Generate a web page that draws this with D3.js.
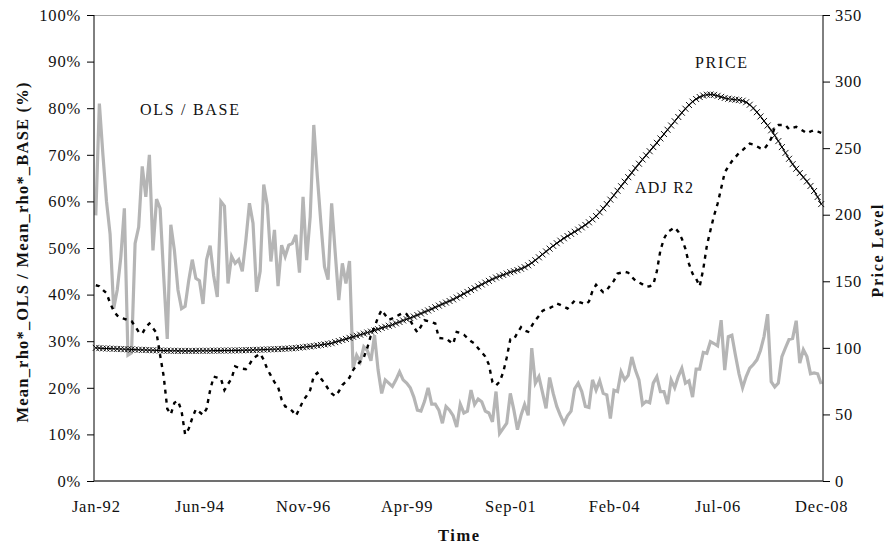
<!DOCTYPE html>
<html>
<head>
<meta charset="utf-8">
<script src="https://cdn.jsdelivr.net/npm/d3@7"></script>
<style>
  html, body { margin: 0; padding: 0; background: #fff; }
  svg text { font-family: "Liberation Serif", "Times New Roman", serif; fill: #111; }
</style>
</head>
<body>
<svg id="chart" width="887" height="544"></svg>
<script>
// Monthly observations, Jan-1992 .. Dec-2008
const firstMonth = new Date(1992, 0, 1);
const endMonth = new Date(2009, 0, 1);

const xTickLabels = ["Jan-92", "Jun-94", "Nov-96", "Apr-99", "Sep-01", "Feb-04", "Jul-06", "Dec-08"];
const leftTicks = [0, 10, 20, 30, 40, 50, 60, 70, 80, 90, 100];
const rightTicks = [0, 50, 100, 150, 200, 250, 300, 350];

// Mean_rho*_OLS / Mean_rho*_BASE, in %
const olsBase = [
  57, 81, 70, 60, 53, 37, 41, 48, 58.5, 27, 27.5, 51, 54.5, 67.5, 61, 70, 49.5, 60.5, 58.5, 44,
  30.5, 55, 49.5, 41, 37, 37.5, 43, 47.5, 43.5, 43, 38, 47.5, 50.5, 44, 39.5, 60, 59, 42.4, 48.2, 46.7,
  47.5, 45, 51.7, 59.6, 55.3, 40.6, 45, 63.6, 59.2, 47.1, 53.9, 41.8, 50.6, 48.2, 50.6, 51, 52.8, 44.7, 61, 47.4,
  56.7, 76.4, 65.3, 55.3, 46, 43.2, 59.6, 49, 38.8, 46.7, 42.4, 47.2, 24.2, 27, 25.6, 28.8, 28, 25.8, 31.3, 23.8,
  18.8, 21.7, 21, 20.3, 21.7, 23.4, 21.7, 21, 20, 18, 15.2, 15, 17.1, 20, 16.5, 16.5, 15.2, 12.4, 16, 15.2,
  14, 11.6, 16.5, 14.6, 15, 19.5, 16.4, 17.6, 17, 15, 14.6, 12.7, 19.2, 10.2, 11.3, 12.4, 18.8, 15.2, 11, 14.1,
  16.4, 14.1, 28.5, 21, 22.4, 19, 15.6, 22.2, 18.8, 16, 14.1, 12.4, 14, 15, 19.8, 21, 19.2, 16, 15.8, 21.7,
  19.5, 21.5, 18.8, 18.5, 13.4, 19.5, 19.2, 23.4, 21.7, 22.7, 26.6, 23.8, 21.7, 16.4, 17.1, 16.8, 21, 22.4, 19.2, 19.2,
  16.5, 21.7, 20, 22.4, 24.2, 21, 21.5, 18, 24, 24, 27.6, 27.4, 29.9, 29.5, 29, 34.5, 23.8, 31, 31.3, 27,
  23, 20, 22.4, 24.2, 25, 26, 28, 31, 35.8, 21.3, 20.2, 21, 26.7, 28.6, 30.4, 30.6, 34.4, 25.3, 28.2, 26.7,
  23, 23.2, 23, 20.8
];

// Adjusted R-squared, in %
const adjR2 = [
  42, 41.8, 41, 40.3, 38.2, 36.5, 35.5, 35, 34.8, 34.5, 34.3, 33.2, 32, 31.6, 33, 33.8, 32.8, 31.8, 27, 22.5,
  15.5, 14.3, 16.8, 17.2, 15, 10, 11.2, 13.5, 15.4, 14.8, 14.2, 15.5, 19.5, 22.4, 22.2, 22, 19.5, 20.8, 22, 24.6,
  24.3, 24.1, 24, 25, 26.3, 26.8, 27.3, 26, 24, 22.6, 21.2, 20.2, 17.5, 16, 15.7, 15, 14, 15.5, 17.2, 18.3,
  19.5, 22.5, 23.2, 22, 21, 19.8, 18.8, 18.2, 19.2, 20.6, 21.3, 22.2, 23.8, 24.8, 25.6, 26.5, 28.6, 31.3, 33, 35.2,
  36.7, 35.6, 34.6, 34.9, 35.3, 35.7, 36.1, 35.8, 34.5, 33, 31.9, 33.2, 34.5, 34.3, 34.1, 33.8, 30.7, 30.6, 30.6, 30,
  29.4, 32, 31.8, 31.4, 30.7, 30, 29.5, 28.5, 27.6, 26.7, 25, 21.2, 20.5, 21.3, 23.3, 26.5, 30.4, 30.4, 31.8, 33,
  32.3, 32, 33.3, 34.5, 35.4, 36.5, 36.9, 37.1, 37.5, 38.1, 37.8, 37.4, 37, 37.8, 38.7, 38.5, 38.2, 37.9, 38.5, 40.8,
  42.1, 41.3, 40.5, 41, 42, 43, 44.5, 44.7, 44.9, 44.7, 43.8, 43, 42.6, 42.2, 41.7, 41.8, 42.1, 45, 49.5, 52,
  53.4, 53.9, 54.4, 53.5, 52, 49.8, 46.6, 44.5, 43.4, 41.8, 45.5, 50.5, 53.8, 56.9, 59.5, 62.8, 66.2, 67.5, 68.6, 69.5,
  70.4, 71, 71.7, 72.4, 72.2, 71.8, 71.4, 71.2, 72.2, 73.5, 76, 76.4, 76.4, 76.4, 75.5, 75.8, 76, 75.6, 75.1, 74.6,
  75, 75.3, 75, 74.7
];

// Price level index (right axis)
const price = [
  100, 99.8, 99.6, 99.5, 99.4, 99.3, 99.2, 99.1, 99, 98.9, 98.8, 98.7, 98.6, 98.5, 98.4, 98.3, 98.2, 98.1, 98, 97.9,
  97.9, 97.8, 97.8, 97.7, 97.7, 97.7, 97.7, 97.7, 97.7, 97.8, 97.8, 97.8, 97.8, 97.9, 97.9, 97.9, 98, 98, 98, 98.1,
  98.1, 98.2, 98.3, 98.3, 98.4, 98.5, 98.6, 98.7, 98.8, 98.9, 99, 99.1, 99.2, 99.4, 99.5, 99.7, 99.9, 100.2, 100.5, 100.8,
  101.1, 101.4, 101.8, 102.2, 102.6, 103, 103.5, 104.3, 105.1, 105.9, 106.7, 107.5, 108.3, 109.1, 109.9, 110.7, 111.5, 112.2, 113, 114,
  115, 115.8, 116.6, 117.4, 118.4, 119.4, 120.6, 121.5, 122.4, 123.5, 124.6, 125.8, 127, 128.1, 129.2, 130.5, 131.7, 132.9, 134, 135.2,
  136.4, 137.8, 139.2, 140.6, 142, 143.4, 144.8, 146.2, 147.6, 149, 150.3, 151.6, 152.8, 153.8, 154.8, 155.8, 156.8, 157.6, 158.4, 159.4,
  160.6, 162, 163.8, 165.8, 168, 170.2, 172.4, 174.5, 176.6, 178.6, 180.5, 182.3, 184, 185.6, 187.2, 188.8, 190.5, 192.3, 194.3, 196.5,
  199, 201.8, 204.8, 208, 211.3, 214.6, 218, 221.4, 224.8, 228.2, 231.6, 235, 238.3, 241.5, 244.6, 247.7, 250.8, 254, 257.3, 260.6,
  263.8, 267, 270.2, 273.4, 276.6, 279.6, 282.4, 284.9, 286.9, 288.4, 289.5, 290.1, 290.3, 290, 289.3, 288.5, 287.7, 287.1, 286.7, 286.4,
  286.1, 285.6, 284.5, 282.6, 280, 277, 273.8, 270.4, 267, 263.4, 259.5, 255.3, 250.8, 246.4, 242, 238, 234.5, 231.3, 228.2, 225,
  221.6, 217.8, 213.3, 208
];

const months = d3.timeMonth.range(firstMonth, endMonth);
const fmtMonth = d3.timeFormat("%b-%y");
const idx = d3.range(months.length);

const svg = d3.select("#chart");
const plot = { left: 94, right: 823, top: 15, bottom: 481 };

const x = d3.scalePoint().domain(idx).range([plot.left, plot.right]).padding(0.5);
const yL = d3.scaleLinear().domain([0, 100]).range([plot.bottom, plot.top]);
const yR = d3.scaleLinear().domain([0, 350]).range([plot.bottom, plot.top]);

const labelFont = "16.5px";

// top frame line
svg.append("line")
  .attr("x1", plot.left).attr("x2", plot.right)
  .attr("y1", plot.top + 0.5).attr("y2", plot.top + 0.5)
  .attr("stroke", "#a6a6a6").attr("stroke-width", 1.2);

// OLS / BASE ratio
svg.append("path")
  .datum(olsBase)
  .attr("fill", "none")
  .attr("stroke", "#b5b5b5")
  .attr("stroke-width", 3.2)
  .attr("stroke-linejoin", "miter")
  .attr("d", d3.line().x((d, i) => x(i)).y(d => yL(d)));

// Price level with x markers
const priceLine = d3.line().x((d, i) => x(i)).y(d => yR(d));
svg.append("path")
  .datum(price)
  .attr("fill", "none")
  .attr("stroke", "#000")
  .attr("stroke-width", 1.1)
  .attr("d", priceLine);

svg.append("g").selectAll("path")
  .data(price)
  .join("path")
  .attr("transform", (d, i) => `translate(${x(i)},${yR(d)})`)
  .attr("d", "M-3,-3L3,3M-3,3L3,-3")
  .attr("stroke", "#000")
  .attr("stroke-width", 0.9)
  .attr("fill", "none");

// Adjusted R2 (dashed)
svg.append("path")
  .datum(adjR2)
  .attr("fill", "none")
  .attr("stroke", "#000")
  .attr("stroke-width", 2.4)
  .attr("stroke-dasharray", "4,5")
  .attr("d", d3.line().x((d, i) => x(i)).y(d => yL(d)));

// Left axis
const gL = svg.append("g")
  .attr("transform", `translate(${plot.left},0)`)
  .call(d3.axisLeft(yL).tickValues(leftTicks).tickFormat(d => d + "%").tickSize(7).tickSizeOuter(0).tickPadding(6));

// Right axis
const gR = svg.append("g")
  .attr("transform", `translate(${plot.right},0)`)
  .call(d3.axisRight(yR).tickValues(rightTicks).tickSize(7).tickSizeOuter(0).tickPadding(5));

// Bottom axis
const tickIdx = idx.filter(i => xTickLabels.includes(fmtMonth(months[i])));
const gB = svg.append("g")
  .attr("transform", `translate(0,${plot.bottom})`)
  .call(d3.axisBottom(x).tickValues(tickIdx).tickFormat(i => fmtMonth(months[i])).tickSize(0).tickSizeOuter(0).tickPadding(19));

[gL, gR, gB].forEach(g => {
  g.selectAll("text")
    .style("font-family", '"Liberation Serif", serif')
    .style("font-size", labelFont)
    .style("letter-spacing", "0.8px")
    .attr("fill", "#111");
  g.selectAll("line").attr("stroke", "#000");
});
gL.select(".domain").attr("stroke", "#000").attr("d", `M0,${plot.bottom}V${plot.top}`);
gR.select(".domain").attr("stroke", "#000").attr("d", `M0,${plot.bottom}V${plot.top}`);
gB.select(".domain").attr("stroke", "#404040").attr("stroke-width", 1.4)
  .attr("d", `M${plot.left},0H${plot.right}`);

// Axis titles
svg.append("text")
  .attr("x", 458.5).attr("y", 541)
  .attr("text-anchor", "middle")
  .style("font-weight", "bold").style("font-size", "16.5px")
  .attr("textLength", 41)
  .text("Time");

svg.append("text")
  .attr("transform", "translate(28,252.5) rotate(-90)")
  .attr("text-anchor", "middle")
  .style("font-weight", "bold").style("font-size", "16.5px")
  .attr("textLength", 340)
  .text("Mean_rho*_OLS / Mean_rho*_BASE (%)");

svg.append("text")
  .attr("transform", "translate(882.5,251) rotate(-90)")
  .attr("text-anchor", "middle")
  .style("font-weight", "bold").style("font-size", "16px")
  .attr("textLength", 93)
  .text("Price Level");

// Series labels
const seriesLabels = [
  { text: "OLS / BASE", x: 140, y: 115, w: 99 },
  { text: "PRICE", x: 695, y: 67.5, w: 52 },
  { text: "ADJ R2", x: 635, y: 192.5, w: 58 }
];
svg.append("g").selectAll("text")
  .data(seriesLabels)
  .join("text")
  .attr("x", d => d.x).attr("y", d => d.y)
  .attr("textLength", d => d.w)
  .style("font-size", "16px")
  .attr("fill", "#222")
  .text(d => d.text);
</script>
</body>
</html>
